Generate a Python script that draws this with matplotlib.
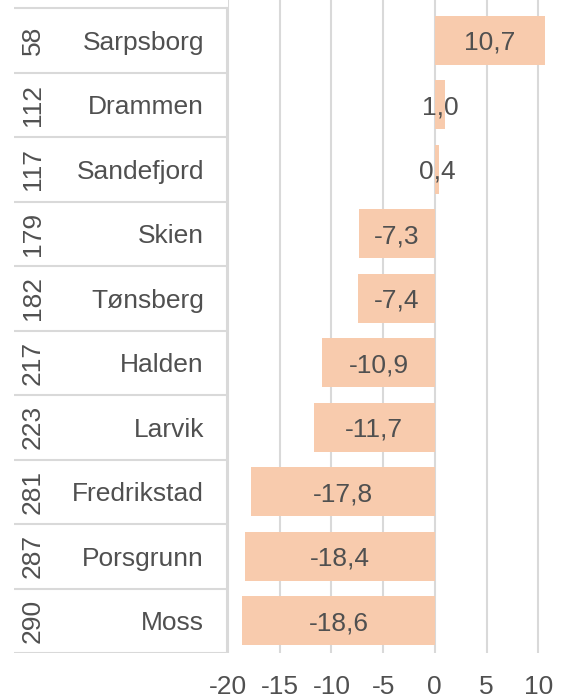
import matplotlib
matplotlib.use("Agg")
import matplotlib.pyplot as plt

plt.rcParams['font.family'] = ['Liberation Sans', 'DejaVu Sans']

cities = ["Sarpsborg", "Drammen", "Sandefjord", "Skien", "Tønsberg",
          "Halden", "Larvik", "Fredrikstad", "Porsgrunn", "Moss"]
ranks = [58, 112, 117, 179, 182, 217, 223, 281, 287, 290]
values = [10.7, 1.0, 0.4, -7.3, -7.4, -10.9, -11.7, -17.8, -18.4, -18.6]
xticks = [-20, -15, -10, -5, 0, 5, 10]

W, H = 562, 699
BAR = "#F8CBAD"
TXT = "#505050"
LINE = "#D9D9D9"
FS = 19

fig = plt.figure(figsize=(W / 100, H / 100), dpi=100)

top_px, bot_px = 0, 653
row_top = 8
row_h = (bot_px - row_top) / len(cities)
ytop = -0.5 - (row_top - top_px) / row_h
ylim = (len(cities) - 0.5, ytop)

ax_left = 228
ax = fig.add_axes([ax_left / W, 1 - bot_px / H, (W - ax_left) / W, (bot_px - top_px) / H])
ypos = list(range(len(cities)))
ax.barh(ypos, values, height=0.76, color=BAR, zorder=2)
ax.set_ylim(*ylim)
ax.set_xlim(-20, 12.3)
ax.set_xticks(xticks)
ax.set_xticklabels([str(t) for t in xticks], fontsize=FS, color=TXT)
ax.tick_params(axis='x', length=0, pad=16)
ax.set_yticks([])
for s in ax.spines.values():
    s.set_visible(False)
ax.grid(axis='x', color=LINE, linewidth=1.5, zorder=0)
for y, v in zip(ypos, values):
    ax.text(v / 2, y, f"{v:.1f}".replace(".", ","), ha='center', va='center_baseline',
            fontsize=FS, color=TXT, zorder=3)

# table
tl = 14
tax = fig.add_axes([tl / W, 1 - bot_px / H, (ax_left - tl) / W, (bot_px - top_px) / H])
tax.set_xlim(tl, ax_left)
tax.set_ylim(*ylim)
tax.axis('off')
for i in range(len(cities) + 1):
    yb = i - 0.5
    tax.plot([tl, ax_left], [yb, yb], color=LINE, lw=1.5, solid_capstyle='butt')
tax.plot([ax_left - 1, ax_left - 1], [-0.5, len(cities) - 0.5], color=LINE, lw=1.5)
for y, (r, c) in enumerate(zip(ranks, cities)):
    tax.text(33, y, str(r), rotation=90, ha='center', va='center',
             fontsize=FS, color=TXT)
    tax.text(204, y, c, ha='right', va='center_baseline', fontsize=FS, color=TXT)

fig.savefig("out.png", dpi=100)
